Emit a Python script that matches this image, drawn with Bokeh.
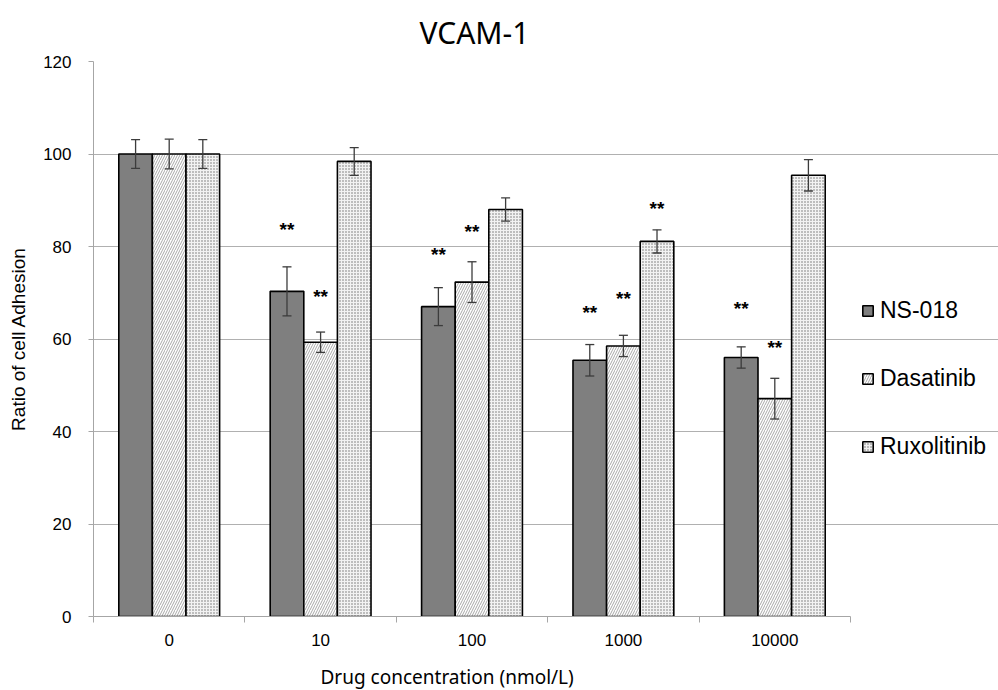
from bokeh.plotting import figure
from bokeh.models import (Range1d, FixedTicker, Whisker, TeeHead, Title, Legend,
                          LegendItem, ColumnDataSource)
from bokeh.core.properties import value
from bokeh.embed import file_html
from bokeh.resources import INLINE

# ---------------- data ----------------
concentrations = ["0", "10", "100", "1000", "10000"]
series_names = ["NS-018", "Dasatinib", "Ruxolitinib"]
ns018 = [100.0, 70.3, 67.0, 55.4, 56.0]
ns018_err = [3.1, 5.3, 4.1, 3.4, 2.3]
dasatinib = [100.0, 59.3, 72.3, 58.5, 47.1]
dasatinib_err = [3.2, 2.2, 4.4, 2.3, 4.4]
ruxolitinib = [100.0, 98.4, 88.0, 81.1, 95.4]
ruxolitinib_err = [3.1, 3.0, 2.5, 2.5, 3.4]

# significance marks: group index, series index, label y value
star_group = [1, 1, 2, 2, 3, 3, 3, 4, 4]
star_series = [0, 1, 0, 1, 0, 1, 2, 0, 1]
star_y = [84.1, 69.6, 78.7, 83.7, 66.2, 69.2, 88.6, 67.0, 58.6]

y_ticks = [0, 20, 40, 60, 80, 100, 120]

# ---------------- figure ----------------
n_cat = len(concentrations)
# the frame reaches the right edge so that the legend can sit inside it;
# axis and grid lines are bounded to the categories
x_end = n_cat * (998 - 93) / 757.0
p = figure(width=998, height=690, x_range=Range1d(0, x_end), y_range=Range1d(0, 120),
           output_backend="svg", toolbar_location=None,
           min_border_left=93, min_border_right=0, min_border_top=61, min_border_bottom=74)
p.outline_line_color = None
p.background_fill_color = "white"
p.border_fill_color = "white"

bar_w = 0.222
offsets = [-bar_w, 0.0, bar_w]
centers = [i + 0.5 for i in range(n_cat)]

styles = [
    dict(fill_color="#7f7f7f"),
    dict(fill_color="white", hatch_pattern="right_diagonal_line", hatch_color="#a8a8a8",
         hatch_scale=5, hatch_weight=1),
    dict(fill_color="#bdbdbd", hatch_pattern="cross", hatch_color="#f2f2f2",
         hatch_scale=3, hatch_weight=1),
]

vals = [ns018, dasatinib, ruxolitinib]
errs = [ns018_err, dasatinib_err, ruxolitinib_err]
renderers = []
for k in range(3):
    xs = [c + offsets[k] for c in centers]
    src = ColumnDataSource(dict(
        x=xs, top=vals[k],
        upper=[v + e for v, e in zip(vals[k], errs[k])],
        lower=[v - e for v, e in zip(vals[k], errs[k])],
    ))
    r = p.vbar(x="x", top="top", bottom=0, width=bar_w, source=src,
               line_color="black", line_width=1.6, **styles[k])
    renderers.append(r)
    w = Whisker(source=src, base="x", upper="upper", lower="lower", level="overlay",
                line_color="#3c3c3c", line_width=1.3,
                upper_head=TeeHead(size=9, line_color="#3c3c3c", line_width=1.3),
                lower_head=TeeHead(size=9, line_color="#3c3c3c", line_width=1.3))
    p.add_layout(w)

star_src = ColumnDataSource(dict(
    x=[centers[g] + offsets[s] for g, s in zip(star_group, star_series)],
    y=star_y,
    t=["**"] * len(star_y),
))
p.text(x="x", y="y", text="t", source=star_src, text_align="center",
       text_baseline="middle", text_font=value("Liberation Sans"),
       text_font_size="19px", text_font_style="bold", text_color="black", y_offset=2)

# ---------------- axes ----------------
xa = p.xaxis[0]
xa.bounds = (0, n_cat)
xa.ticker = FixedTicker(ticks=centers, minor_ticks=list(range(n_cat + 1)))
xa.major_label_overrides = {c: lab for c, lab in zip(centers, concentrations)}
xa.major_tick_out = 0
xa.major_tick_in = 0
xa.minor_tick_out = 6
xa.minor_tick_in = 0
xa.minor_tick_line_color = "#a6a6a6"
xa.axis_line_color = "#a6a6a6"
xa.major_label_text_font = "Liberation Sans"
xa.major_label_text_font_size = "17px"
xa.major_label_text_color = "black"
xa.major_label_standoff = 11
# blank axis label used only as a spacer above the (offset) x title
xa.axis_label = " "
xa.axis_label_text_font_size = "2px"
xa.axis_label_standoff = 8

ya = p.yaxis[0]
ya.ticker = FixedTicker(ticks=y_ticks)
ya.major_tick_out = 5
ya.major_tick_in = 0
ya.minor_tick_out = 0
ya.minor_tick_in = 0
ya.major_tick_line_color = "#a6a6a6"
ya.axis_line_color = "#a6a6a6"
ya.major_label_text_font = "Liberation Sans"
ya.major_label_text_font_size = "17px"
ya.major_label_text_color = "black"
ya.major_label_standoff = 17
ya.axis_label = "Ratio of cell Adhesion"
ya.axis_label_text_font = "Liberation Sans"
ya.axis_label_text_font_size = "19px"
ya.axis_label_text_font_style = "normal"
ya.axis_label_text_color = "black"
ya.axis_label_standoff = 11

p.xgrid.visible = False
p.ygrid.bounds = (0, n_cat)
p.ygrid.grid_line_color = "#b0b0b0"
p.ygrid.grid_line_width = 1

# ---------------- texts ----------------
p.title = Title(text="VCAM-1", align="left", offset=326, standoff=17,
                text_font="Noto Sans", text_font_size="30px",
                text_font_style="normal", text_color="black")
p.add_layout(Title(text="Drug concentration (nmol/L)", align="left", offset=227,
                   standoff=0, text_font="Noto Sans", text_font_size="19px",
                   text_font_style="normal", text_color="black"), "below")

# ---------------- legend ----------------
legend = Legend(items=[LegendItem(label=n, renderers=[r]) for n, r in zip(series_names, renderers)],
                location=(768, 156), orientation="vertical",
                glyph_width=13, glyph_height=13, label_height=22, spacing=41,
                label_standoff=6, padding=0, margin=0,
                label_text_font="Liberation Sans", label_text_font_size="23px",
                label_text_color="black",
                border_line_color=None, background_fill_alpha=0)
p.add_layout(legend)

open("out.html", "w").write(file_html(p, INLINE))
